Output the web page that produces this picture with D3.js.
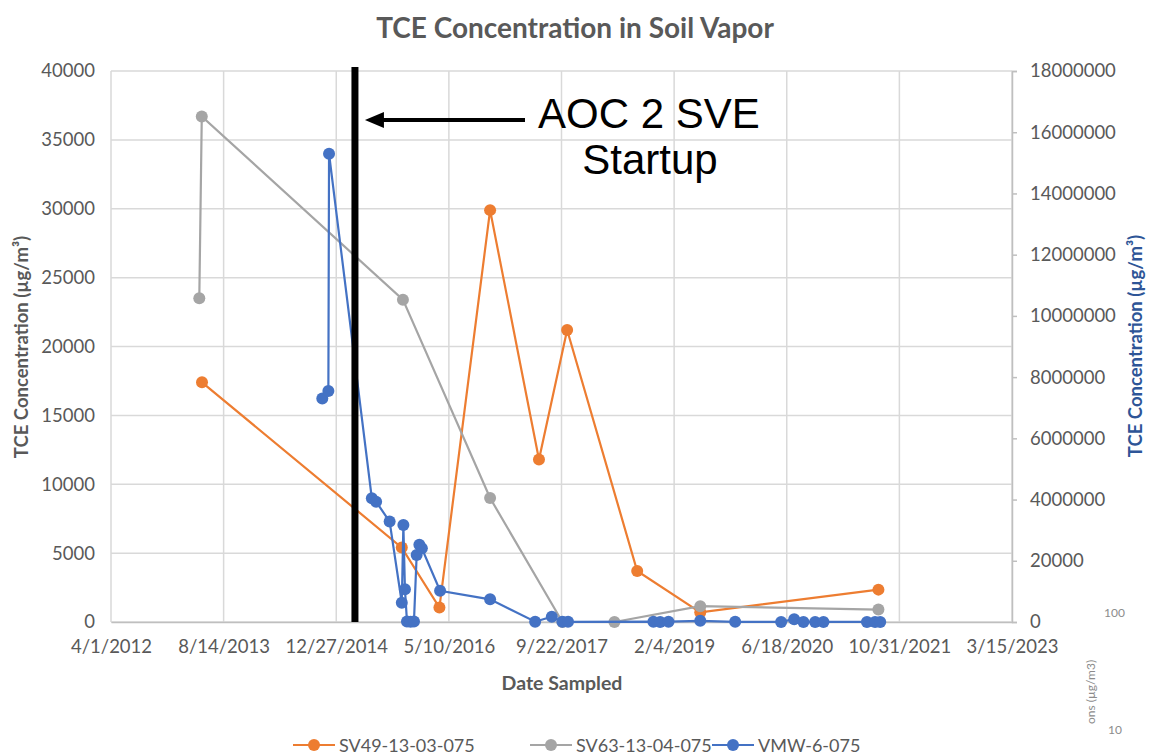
<!DOCTYPE html>
<html>
<head>
<meta charset="utf-8">
<script src="https://cdn.jsdelivr.net/npm/d3@7/dist/d3.min.js"></script>
<style>
  body { margin: 0; background: #fff; }
  text { font-family: Lato, "Open Sans", "Liberation Sans", sans-serif; }
</style>
</head>
<body>
<svg id="chart" width="1150" height="755"></svg>
<script>
// Axis ticks
const xTickLabels = ["4/1/2012", "8/14/2013", "12/27/2014", "5/10/2016", "9/22/2017",
                     "2/4/2019", "6/18/2020", "10/31/2021", "3/15/2023"];
const leftTicks = [0, 5000, 10000, 15000, 20000, 25000, 30000, 35000, 40000];
const rightTicks = [0, 2000000, 4000000, 6000000, 8000000, 10000000, 12000000,
                    14000000, 16000000, 18000000];
const rightTickLabels = ["0", "20000", "4000000", "6000000", "8000000", "10000000",
                         "12000000", "14000000", "16000000", "18000000"];

// SV49-13-03-075 (left axis, µg/m³)
const sv49Dates = ["2013-05-10", "2015-10-14", "2016-03-29", "2016-11-09", "2017-06-14",
                   "2017-10-17", "2018-08-24", "2019-05-31", "2021-07-30"];
const sv49Values = [17400, 5400, 1050, 29900, 11800, 21200, 3700, 700, 2350];

// SV63-13-04-075 (left axis, µg/m³)
const sv63Dates = ["2013-04-28", "2013-05-09", "2015-10-19", "2016-11-09", "2017-09-26",
                   "2018-05-15", "2019-05-31", "2021-07-30"];
const sv63Values = [23500, 36700, 23400, 9000, 0, 0, 1150, 900];

// VMW-6-075 (right axis, µg/m³)
const vmwDates = ["2014-10-26", "2014-11-22", "2014-11-25", "2015-06-03", "2015-06-22",
                  "2015-08-21", "2015-10-14", "2015-10-21", "2015-10-28", "2015-11-06",
                  "2015-11-22", "2015-12-07", "2015-12-19", "2015-12-31", "2016-01-11",
                  "2016-04-01", "2016-11-09", "2017-05-28", "2017-08-10", "2017-09-26",
                  "2017-10-21", "2018-11-04", "2018-12-04", "2019-01-10", "2019-05-31",
                  "2019-11-02", "2020-05-24", "2020-07-21", "2020-08-31", "2020-10-22",
                  "2020-11-28", "2021-06-09", "2021-07-15", "2021-08-07"];
const vmwValues = [7300000, 7550000, 15300000, 4040000, 3930000,
                   3280000, 630000, 3170000, 1070000, 20000,
                   10000, 15000, 2190000, 2520000, 2410000,
                   1020000, 740000, 10000, 170000, 5000,
                   5000, 10000, 2000, 10000, 40000,
                   5000, 2000, 90000, 2000, 2000,
                   2000, 2000, 2000, 2000];

const startupDate = "2015-03-20";

const seriesNames = ["SV49-13-03-075", "SV63-13-04-075", "VMW-6-075"];
const seriesColors = ["#ED7D31", "#A5A5A5", "#4472C4"];

const svg = d3.select("#chart");
const parseTick = d3.utcParse("%m/%d/%Y");
const parseDate = d3.utcParse("%Y-%m-%d");

const plot = { left: 111, right: 1012, top: 71, bottom: 622 };

const x = d3.scaleUtc()
  .domain([parseTick(xTickLabels[0]), parseTick(xTickLabels[xTickLabels.length - 1])])
  .range([plot.left, plot.right]);
const yL = d3.scaleLinear().domain([0, 40000]).range([plot.bottom, plot.top]);
const yR = d3.scaleLinear().domain([0, 18000000]).range([plot.bottom, plot.top]);

const gridColor = "#d9d9d9";
const textColor = "#595959";

// Gridlines
svg.append("g")
  .selectAll("line").data(leftTicks).join("line")
  .attr("x1", plot.left).attr("x2", plot.right)
  .attr("y1", d => yL(d)).attr("y2", d => yL(d))
  .attr("stroke", gridColor).attr("stroke-width", 1.5);
svg.append("g")
  .selectAll("line").data(xTickLabels).join("line")
  .attr("x1", d => x(parseTick(d))).attr("x2", d => x(parseTick(d)))
  .attr("y1", plot.top).attr("y2", plot.bottom)
  .attr("stroke", gridColor).attr("stroke-width", 1.5);

// Left axis
const leftAxis = svg.append("g")
  .attr("transform", `translate(${plot.left},0)`)
  .call(d3.axisLeft(yL).tickValues(leftTicks).tickSize(0).tickPadding(16).tickFormat(d3.format("d")));
leftAxis.select(".domain").remove();
leftAxis.selectAll("text").attr("fill", textColor).attr("font-size", 18.5);

// Right axis
const rightAxis = svg.append("g")
  .attr("transform", `translate(${plot.right},0)`)
  .call(d3.axisRight(yR).tickValues(rightTicks).tickSize(5).tickPadding(13)
        .tickFormat((d, i) => rightTickLabels[i]));
rightAxis.select(".domain").attr("stroke", "#bfbfbf").attr("stroke-width", 1.5);
rightAxis.selectAll(".tick line").attr("stroke", "#bfbfbf").attr("stroke-width", 1.5);
rightAxis.selectAll("text").attr("fill", textColor).attr("font-size", 18.5);

// Bottom axis
const bottomAxis = svg.append("g")
  .attr("transform", `translate(0,${plot.bottom})`)
  .call(d3.axisBottom(x).tickValues(xTickLabels.map(parseTick)).tickSize(0).tickPadding(18)
        .tickFormat((d, i) => xTickLabels[i]));
bottomAxis.select(".domain").attr("stroke", "#bfbfbf").attr("stroke-width", 1.5);
bottomAxis.selectAll("text").attr("fill", textColor).attr("font-size", 18.5);

// Series
const series = [
  { dates: sv49Dates, values: sv49Values, y: yL, color: seriesColors[0] },
  { dates: sv63Dates, values: sv63Values, y: yL, color: seriesColors[1] },
  { dates: vmwDates, values: vmwValues, y: yR, color: seriesColors[2] }
];

series.forEach(s => {
  const pts = s.dates.map((d, i) => ({ date: parseDate(d), value: s.values[i] }));
  const line = d3.line().x(d => x(d.date)).y(d => s.y(d.value));
  const g = svg.append("g");
  g.append("path").datum(pts)
    .attr("d", line).attr("fill", "none")
    .attr("stroke", s.color).attr("stroke-width", 2.2);
  g.selectAll("circle").data(pts).join("circle")
    .attr("cx", d => x(d.date)).attr("cy", d => s.y(d.value))
    .attr("r", 6).attr("fill", s.color);
});

// SVE startup marker
const xs = x(parseDate(startupDate));
svg.append("line")
  .attr("x1", xs).attr("x2", xs).attr("y1", 67).attr("y2", plot.bottom)
  .attr("stroke", "#000").attr("stroke-width", 7);

const arrowY = 120;
svg.append("line")
  .attr("x1", xs + 26).attr("x2", 525).attr("y1", arrowY).attr("y2", arrowY)
  .attr("stroke", "#000").attr("stroke-width", 4);
svg.append("path")
  .attr("d", `M${xs + 10},${arrowY} L${xs + 29},${arrowY - 8} L${xs + 29},${arrowY + 8} Z`)
  .attr("fill", "#000");

const note = svg.append("text")
  .attr("text-anchor", "middle")
  .attr("font-size", 42).attr("fill", "#000")
  .style("font-family", "'Liberation Sans', Arial, sans-serif");
note.append("tspan").attr("x", 649).attr("y", 128).text("AOC 2 SVE");
note.append("tspan").attr("x", 650).attr("y", 174).text("Startup");

// Titles
svg.append("text")
  .attr("x", 575).attr("y", 38).attr("text-anchor", "middle")
  .attr("font-size", 28).attr("font-weight", "bold").attr("fill", textColor)
  .text("TCE Concentration in Soil Vapor");

svg.append("text")
  .attr("x", 562).attr("y", 690).attr("text-anchor", "middle")
  .attr("font-size", 19.5).attr("font-weight", "bold").attr("fill", textColor)
  .text("Date Sampled");

svg.append("text")
  .attr("transform", "translate(28,347) rotate(-90)").attr("text-anchor", "middle")
  .attr("font-size", 18.5).attr("font-weight", "bold").attr("fill", textColor)
  .text("TCE Concentration (µg/m³)");

svg.append("text")
  .attr("transform", "translate(1142,346) rotate(-90)").attr("text-anchor", "middle")
  .attr("font-size", 18.5).attr("font-weight", "bold").attr("fill", "#2E5597")
  .text("TCE Concentration (µg/m³)");

// Legend
const legendX = [293, 530, 712];
const legend = svg.append("g");
seriesNames.forEach((name, i) => {
  const g = legend.append("g").attr("transform", `translate(${legendX[i]},745)`);
  g.append("line").attr("x1", 0).attr("x2", 42).attr("y1", 0).attr("y2", 0)
    .attr("stroke", seriesColors[i]).attr("stroke-width", 2.2);
  g.append("circle").attr("cx", 21).attr("cy", 0).attr("r", 6).attr("fill", seriesColors[i]);
  g.append("text").attr("x", 46).attr("y", 6.5)
    .attr("font-size", 18).attr("fill", textColor).text(name);
});

// Fragments of a neighbouring chart at the right edge
const frag = svg.append("g").attr("fill", "#8c8c8c").attr("font-size", 12);
frag.append("text").attr("x", 1104).attr("y", 617).text("100");
frag.append("text").attr("x", 1108).attr("y", 734).text("10");
frag.append("text").attr("transform", "translate(1095,724) rotate(-90)").text("ons (µg/m3)");
</script>
</body>
</html>
